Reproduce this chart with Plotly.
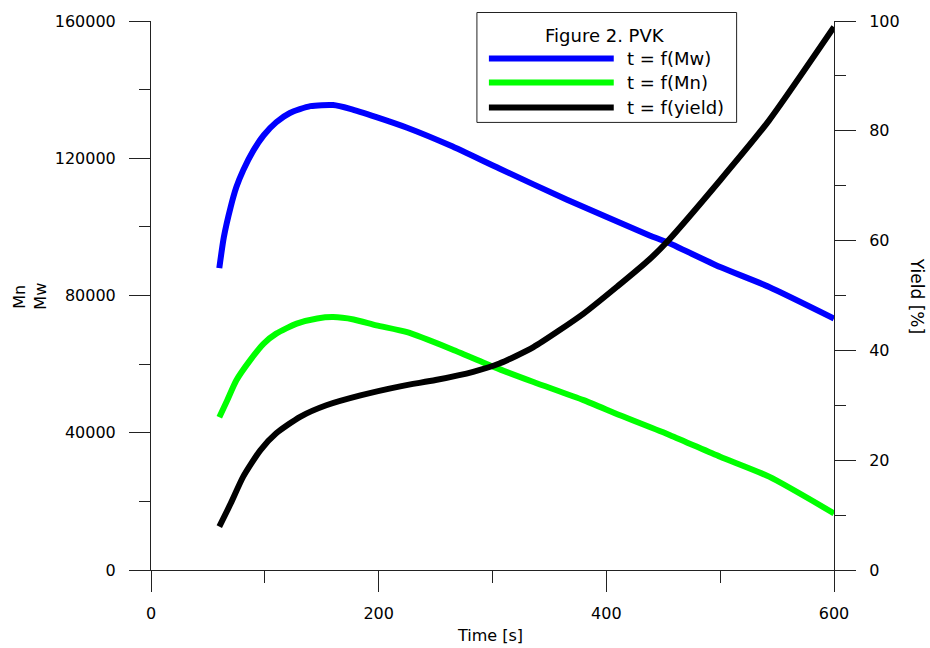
import plotly.graph_objects as go

# ---- data ----
time_mw = [60, 64, 70, 75, 81, 90, 99, 110, 122, 140, 160, 175, 198, 225, 263, 306, 365, 438, 453, 500, 543, 600]
mw = [88000, 97000, 105800, 111600, 116500, 122300, 126700, 130500, 133200, 135200, 135500,
      134400, 132000, 128900, 123700, 117000, 108000, 97500, 95600, 88300, 82500, 73300]

time_mn = [60, 67, 75, 87, 99, 110, 128, 146, 160, 178, 198, 225, 263, 301, 336, 380, 412, 456, 500, 543, 600]
mn = [44500, 49500, 55300, 61100, 66000, 68900, 71800, 73300, 73700, 73000, 71300,
      69300, 64500, 59200, 54800, 49500, 45100, 39300, 33000, 27200, 16500]

time_yield = [60, 70, 81, 96, 110, 131, 154, 184, 220, 250, 283, 306, 336, 380, 410, 438, 453, 500, 543, 600]
yield_pct = [7.9, 12.1, 17.0, 21.8, 24.9, 27.9, 30.0, 31.8, 33.5, 34.6, 36.1, 37.6, 40.6,
             46.7, 51.7, 56.6, 59.7, 71.0, 81.9, 98.9]

x_ticks = [0, 200, 400, 600]
y_ticks = [0, 40000, 80000, 120000, 160000]
y2_ticks = [0, 20, 40, 60, 80, 100]

legend_title = "Figure 2. PVK"
legend_labels = ["t = f(Mw)", "t = f(Mn)", "t = f(yield)"]
colors = ["#0000ff", "#00ff00", "#000000"]

FONT = "DejaVu Sans, Verdana, sans-serif"
W, H = 930, 648
L, R, T, B = 150.7, 95.5, 20.5, 78
PW, PH = W - L - R, H - T - B

def px2paper(x, y):
    return (x - L) / PW, (H - B - y) / PH

fig = go.Figure()
fig.add_trace(go.Scatter(x=time_mw, y=mw, mode="lines",
                         line=dict(color=colors[0], width=6, shape="spline", smoothing=0.6),
                         name=legend_labels[0], showlegend=False))
fig.add_trace(go.Scatter(x=time_mn, y=mn, mode="lines",
                         line=dict(color=colors[1], width=6, shape="spline", smoothing=0.6),
                         name=legend_labels[1], showlegend=False))
fig.add_trace(go.Scatter(x=time_yield, y=yield_pct, mode="lines", yaxis="y2",
                         line=dict(color=colors[2], width=6, shape="spline", smoothing=0.6),
                         name=legend_labels[2], showlegend=False))

axis_common = dict(showline=True, linecolor="#222222", linewidth=1, ticks="outside", ticklen=21,
                   tickcolor="#222222", tickwidth=1, showgrid=False, zeroline=False,
                   tickfont=dict(family=FONT, size=16, color="black"))

fig.update_layout(
    width=W, height=H,
    margin=dict(l=L, r=R, t=T, b=B),
    paper_bgcolor="white", plot_bgcolor="white",
    font=dict(family=FONT, size=16, color="black"),
    xaxis=dict(range=[0, 600], tickvals=x_ticks, tickformat="d", ticklabelstandoff=8,
               minor=dict(ticks="outside", ticklen=12, tickvals=[100, 300, 500], tickcolor="#222222"),
               **axis_common),
    yaxis=dict(range=[0, 160000], tickvals=y_ticks, tickformat="d", ticklabelstandoff=10,
               minor=dict(ticks="outside", ticklen=11, tickvals=[20000, 60000, 100000, 140000], tickcolor="#222222"),
               **axis_common),
    yaxis2=dict(range=[0, 100], overlaying="y", side="right", tickvals=y2_ticks, tickformat="d",
                ticklabelstandoff=10,
                minor=dict(ticks="outside", ticklen=11, tickvals=[10, 30, 50, 70, 90], tickcolor="#222222"),
                **axis_common),
)

# axis titles
fig.add_annotation(text="Time [s]", xref="paper", yref="paper", x=px2paper(490, 0)[0], y=px2paper(0, 636)[1],
                   showarrow=False, font=dict(size=16), xanchor="center", yanchor="middle")
fig.add_annotation(text="Mn", xref="paper", yref="paper", x=px2paper(19, 0)[0], y=px2paper(0, 296)[1],
                   showarrow=False, textangle=-90, font=dict(size=16), xanchor="center", yanchor="middle")
fig.add_annotation(text="Mw", xref="paper", yref="paper", x=px2paper(40, 0)[0], y=px2paper(0, 296)[1],
                   showarrow=False, textangle=-90, font=dict(size=16), xanchor="center", yanchor="middle")
fig.add_annotation(text="Yield [%]", xref="paper", yref="paper", x=px2paper(917, 0)[0], y=px2paper(0, 296)[1],
                   showarrow=False, textangle=90, font=dict(size=17), xanchor="center", yanchor="middle")

# legend box (drawn manually to match long line samples)
bx0, by0 = px2paper(477, 122)
bx1, by1 = px2paper(737, 12)
fig.add_shape(type="rect", xref="paper", yref="paper", x0=bx0, y0=by0, x1=bx1, y1=by1,
              line=dict(color="#222222", width=1), fillcolor="white", layer="above")
tx, ty = px2paper(605, 35)
fig.add_annotation(text=legend_title, xref="paper", yref="paper", x=tx, y=ty, showarrow=False,
                   font=dict(size=18), xanchor="center", yanchor="middle")
for i, (lab, col) in enumerate(zip(legend_labels, colors)):
    yy = [58, 82, 107][i]
    lx0, ly = px2paper(489, yy)
    lx1, _ = px2paper(614, yy)
    fig.add_shape(type="line", xref="paper", yref="paper", x0=lx0, x1=lx1, y0=ly, y1=ly,
                  line=dict(color=col, width=6), layer="above")
    ax, _ = px2paper(625, yy)
    fig.add_annotation(text=lab, xref="paper", yref="paper", x=ax, y=ly, showarrow=False,
                       font=dict(size=18), xanchor="left", yanchor="middle")

fig.write_html("out.html", config={"displayModeBar": False},
               post_script="document.body.style.margin='0px';document.body.style.overflow='hidden';")
